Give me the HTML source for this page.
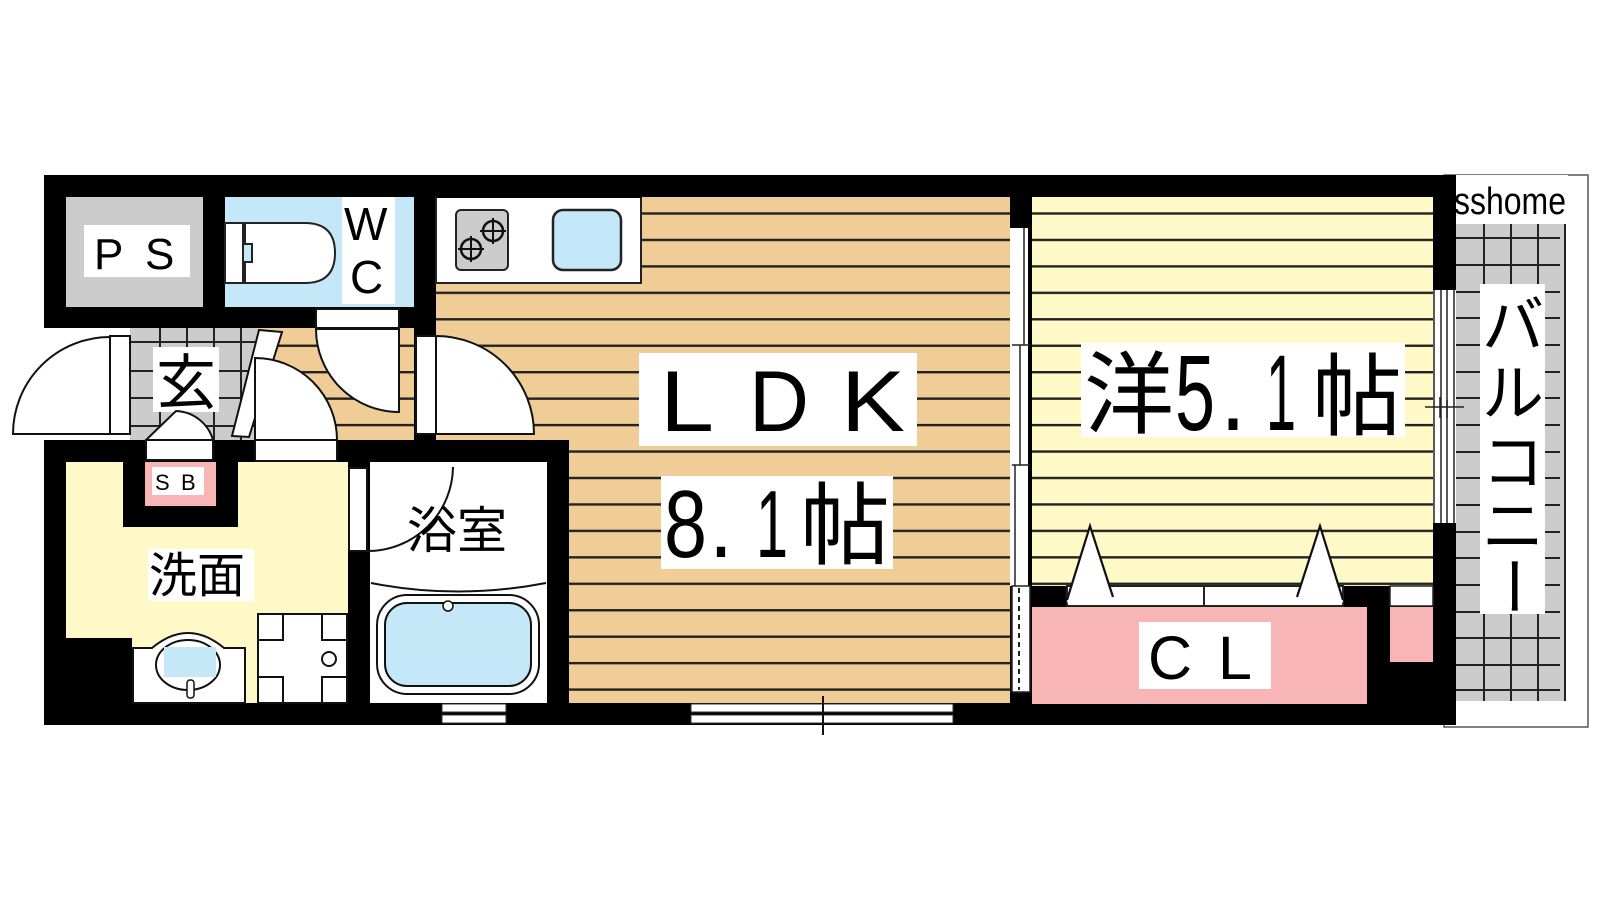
<!DOCTYPE html>
<html><head><meta charset="utf-8"><style>
html,body{margin:0;padding:0;background:#fff;}
svg{display:block;}
.j{font-family:"Liberation Sans","Noto Sans CJK JP",sans-serif;}
.c{font-family:"Noto Sans CJK JP","Liberation Sans",sans-serif;}
</style></head><body>
<svg width="1600" height="900" viewBox="0 0 1600 900" xmlns="http://www.w3.org/2000/svg">
<defs>
<pattern id="ws" x="0" y="0.7" width="40" height="26.45" patternUnits="userSpaceOnUse">
<rect x="0" y="0" width="40" height="26.45" fill="#F0CC96"/>
<rect x="0" y="0" width="40" height="2.4" fill="#222"/>
</pattern>
<pattern id="ys" x="0" y="0.7" width="40" height="26.45" patternUnits="userSpaceOnUse">
<rect x="0" y="0" width="40" height="26.45" fill="#FFF9C8"/>
<rect x="0" y="0" width="40" height="2.4" fill="#222"/>
</pattern>
</defs>
<rect width="1600" height="900" fill="#fff"/>

<!-- balcony -->
<rect x="1444" y="175" width="144" height="552" fill="#fff" stroke="#555" stroke-width="1.5"/>
<rect x="1456" y="224" width="110" height="477" fill="#ccc"/>
<g stroke="#222" stroke-width="2">
<line x1="1484" y1="224" x2="1484" y2="701"/><line x1="1511" y1="224" x2="1511" y2="701"/><line x1="1538" y1="224" x2="1538" y2="701"/><line x1="1565" y1="224" x2="1565" y2="701"/>
<line x1="1456" y1="238" x2="1560" y2="238"/><line x1="1456" y1="265" x2="1560" y2="265"/><line x1="1456" y1="292" x2="1560" y2="292"/><line x1="1456" y1="318" x2="1560" y2="318"/><line x1="1456" y1="345" x2="1560" y2="345"/><line x1="1456" y1="372" x2="1560" y2="372"/><line x1="1456" y1="398" x2="1560" y2="398"/><line x1="1456" y1="425" x2="1560" y2="425"/><line x1="1456" y1="452" x2="1560" y2="452"/><line x1="1456" y1="478" x2="1560" y2="478"/><line x1="1456" y1="505" x2="1560" y2="505"/><line x1="1456" y1="532" x2="1560" y2="532"/><line x1="1456" y1="558" x2="1560" y2="558"/><line x1="1456" y1="585" x2="1560" y2="585"/><line x1="1456" y1="612" x2="1560" y2="612"/><line x1="1456" y1="638" x2="1560" y2="638"/><line x1="1456" y1="665" x2="1560" y2="665"/><line x1="1456" y1="690" x2="1560" y2="690"/>
</g>
<rect x="1451" y="175" width="117" height="49" fill="#fff"/>
<text x="1454" y="214" class="j" font-size="38" textLength="112" lengthAdjust="spacingAndGlyphs">sshome</text>

<!-- main black -->
<rect x="44" y="175" width="1412" height="550" fill="#000"/>
<rect x="0" y="328" width="130" height="112" fill="#fff"/>

<!-- PS -->
<rect x="66" y="197" width="137" height="110" fill="#ccc"/>
<rect x="84" y="225" width="106" height="52" fill="#fff"/>
<text x="94" y="269" class="j" font-size="44">P</text>
<text x="145" y="269" class="j" font-size="44">S</text>

<!-- WC -->
<rect x="225" y="197" width="189" height="110" fill="#C4E8F8"/>
<rect x="225" y="223" width="18" height="60" fill="#fff" stroke="#222" stroke-width="2"/>
<path d="M245,223 L305,223 Q335,223 335,253 Q335,283 305,283 L245,283 L245,262 L252,262 L252,244 L245,244 Z" fill="#fff" stroke="#222" stroke-width="2"/>
<rect x="342" y="197" width="53" height="107" fill="#fff"/>
<text x="344" y="240" class="j" font-size="46">W</text>
<text x="350" y="293" class="j" font-size="46">C</text>

<!-- wood -->
<rect x="569" y="197" width="441" height="506" fill="url(#ws)"/>
<rect x="436" y="283" width="133" height="157" fill="url(#ws)"/>
<rect x="258" y="328" width="156" height="112" fill="url(#ws)"/>

<!-- kitchen -->
<rect x="436" y="197" width="205" height="86" fill="#fff" stroke="#222" stroke-width="2"/>
<rect x="436" y="195" width="205" height="3" fill="#000"/>
<rect x="456" y="210" width="52" height="60" rx="5" fill="#ccc" stroke="#222" stroke-width="2"/>
<g fill="none" stroke="#111" stroke-width="2.5"><circle cx="471" cy="249" r="10"/><circle cx="493" cy="231" r="10"/></g>
<g stroke="#111" stroke-width="2"><line x1="458" y1="249" x2="484" y2="249"/><line x1="471" y1="236" x2="471" y2="262"/><line x1="480" y1="231" x2="506" y2="231"/><line x1="493" y1="218" x2="493" y2="244"/></g>
<rect x="553" y="210" width="68" height="60" rx="10" fill="#C4E8F8" stroke="#222" stroke-width="2.5"/>

<!-- yo room -->
<rect x="1032" y="197" width="401" height="389" fill="url(#ys)"/>
<rect x="1010" y="228" width="18" height="358" fill="#fff"/>
<g stroke="#222" stroke-width="1.5">
<line x1="1024" y1="228" x2="1024" y2="345"/><line x1="1020" y1="345" x2="1020" y2="465"/><line x1="1015" y1="465" x2="1015" y2="586"/>
<line x1="1012" y1="345" x2="1030" y2="345"/><line x1="1012" y1="465" x2="1030" y2="465"/>
</g>
<rect x="1012" y="586" width="18" height="106" fill="#fff" stroke="#222" stroke-width="1.5"/>
<line x1="1019" y1="588" x2="1019" y2="690" stroke="#222" stroke-width="2" stroke-dasharray="5,4"/>

<!-- closet -->
<rect x="1032" y="607" width="335" height="97" fill="#F8B5B5"/>
<rect x="1067" y="586" width="276" height="20" fill="#fff" stroke="#222" stroke-width="2"/>
<line x1="1204" y1="586" x2="1204" y2="606" stroke="#222" stroke-width="2"/>
<rect x="1390" y="586" width="43" height="20" fill="#fff" stroke="#222" stroke-width="1.5"/>
<rect x="1390" y="607" width="43" height="55" fill="#F8B5B5"/>
<polygon points="1067,604 1090,526 1113,597 1067,597" fill="#fff"/>
<polygon points="1297,597 1320,526 1343,604 1343,597" fill="#fff"/>
<g stroke="#111" stroke-width="2.2" fill="none">
<polyline points="1067,600 1090,526 1113,597"/><polyline points="1297,597 1320,526 1343,600"/>
</g>
<rect x="1139" y="622" width="132" height="67" fill="#fff"/>
<text x="1148" y="679" class="j" font-size="61">C</text>
<text x="1218" y="679" class="j" font-size="61">L</text>

<!-- right window -->
<rect x="1433" y="290" width="23" height="233" fill="#fff"/>
<g stroke="#222" stroke-width="1.5">
<line x1="1434" y1="290" x2="1434" y2="523"/><line x1="1441" y1="290" x2="1441" y2="523"/><line x1="1447" y1="290" x2="1447" y2="523"/><line x1="1454" y1="290" x2="1454" y2="523"/>
<line x1="1425" y1="407" x2="1464" y2="407"/>
<line x1="1440" y1="397" x2="1440" y2="418"/><line x1="1447" y1="400" x2="1447" y2="418"/>
</g>

<!-- bottom windows -->
<rect x="691" y="703" width="262" height="22" fill="#000"/>
<rect x="691" y="704" width="262" height="8" fill="#fff" stroke="#333" stroke-width="1"/>
<rect x="691" y="715" width="262" height="8" fill="#fff" stroke="#333" stroke-width="1"/>
<line x1="823" y1="696" x2="823" y2="735" stroke="#111" stroke-width="2"/>
<rect x="442" y="704" width="64" height="8" fill="#fff" stroke="#333" stroke-width="1"/>
<rect x="442" y="715" width="64" height="8" fill="#fff" stroke="#333" stroke-width="1"/>

<!-- genkan -->
<rect x="130" y="328" width="128" height="112" fill="#ccc"/>
<g stroke="#222" stroke-width="2">
<line x1="160" y1="328" x2="160" y2="440"/><line x1="187" y1="328" x2="187" y2="440"/><line x1="214" y1="328" x2="214" y2="440"/><line x1="241" y1="328" x2="241" y2="440"/>
<line x1="130" y1="342" x2="258" y2="342"/><line x1="130" y1="371" x2="258" y2="371"/><line x1="130" y1="398" x2="258" y2="398"/><line x1="130" y1="426" x2="258" y2="426"/>
</g>
<rect x="153" y="347" width="66" height="65" fill="#fff"/>
<text x="156" y="404" class="c" font-size="60">玄</text>

<!-- doors -->
<g fill="#fff" stroke="#111" stroke-width="2">
<rect x="110" y="336" width="20" height="98"/>
<path d="M110,434 L13,434 A97,97 0 0 1 110,337 Z"/>
<polygon points="259,330 282,332 249,437 232,436"/>
<rect x="255" y="440" width="82" height="21"/>
<path d="M255,440 L255,358 A82,82 0 0 1 337,440 Z"/>
<rect x="316" y="309" width="83" height="19"/>
<path d="M399,329 L399,412 A83,83 0 0 1 316,329 Z"/>
<rect x="416" y="336" width="20" height="98"/>
<path d="M436,434 L436,336 A98,98 0 0 1 534,434 Z"/>
<rect x="146" y="440" width="67" height="20"/>
<path d="M146,440 L176,411 A40,40 0 0 1 213,440 Z"/>
</g>

<!-- senmen -->
<path d="M66,462 L123,462 L123,527 L238,527 L238,462 L348,462 L348,703 L132,703 L132,638 L66,638 Z" fill="#FFF9C8"/>
<rect x="145" y="462" width="71" height="44" fill="#F8B5B5"/>
<rect x="152" y="467" width="52" height="28" fill="#fff"/>
<text x="155" y="490" class="j" font-size="22">S</text>
<text x="181" y="490" class="j" font-size="22">B</text>
<path d="M133,703 L133,648 L152,648 Q188,618 224,648 L245,648 L245,703 Z" fill="#fff" stroke="#111" stroke-width="2"/>
<ellipse cx="188" cy="665" rx="32" ry="25" fill="#fff" stroke="#111" stroke-width="2"/>
<rect x="164" y="647" width="52" height="30" fill="#C4E8F8"/>
<rect x="187" y="680" width="7" height="18" rx="3" fill="#fff" stroke="#111" stroke-width="1.5"/>
<rect x="258" y="614" width="89" height="89" fill="#fff" stroke="#111" stroke-width="2"/>
<g fill="#fff" stroke="#111" stroke-width="2">
<rect x="258" y="614" width="25" height="26"/><rect x="322" y="614" width="25" height="26"/><rect x="258" y="677" width="25" height="26"/><rect x="322" y="677" width="25" height="26"/>
<circle cx="329" cy="659" r="7"/>
</g>
<rect x="148" y="549" width="106" height="52" fill="#fff"/>
<text x="149" y="592" class="c" font-size="48">洗面</text>

<!-- bath -->
<rect x="370" y="462" width="177" height="241" fill="#fff"/>
<rect x="349" y="468" width="18" height="83" fill="#fff" stroke="#111" stroke-width="2"/>
<path d="M453,467 A85,85 0 0 1 368,551" fill="none" stroke="#111" stroke-width="2"/>
<path d="M371,583 Q458,600 546,583" fill="none" stroke="#111" stroke-width="2"/>
<rect x="377" y="595" width="162" height="99" rx="30" fill="#fff" stroke="#111" stroke-width="2"/>
<rect x="385" y="603" width="146" height="83" rx="22" fill="#C4E8F8" stroke="#111" stroke-width="2"/>
<circle cx="448" cy="606" r="5" fill="#fff" stroke="#111" stroke-width="1.5"/>
<text x="407" y="548" class="c" font-size="50">浴室</text>

<!-- LDK labels -->
<rect x="639" y="353" width="278" height="93" fill="#fff"/>
<text x="660" y="431" class="j" font-size="86" textLength="54" lengthAdjust="spacingAndGlyphs">L</text>
<text x="749" y="431" class="j" font-size="86" textLength="60" lengthAdjust="spacingAndGlyphs">D</text>
<text x="841" y="431" class="j" font-size="86" textLength="64" lengthAdjust="spacingAndGlyphs">K</text>
<rect x="661" y="476" width="232" height="93" fill="#fff"/>
<text x="664" y="557" class="j" font-size="96" textLength="43" lengthAdjust="spacingAndGlyphs">8</text>
<text x="709" y="557" class="j" font-size="96" textLength="24" lengthAdjust="spacingAndGlyphs">.</text>
<text x="756" y="557" class="j" font-size="96" textLength="32" lengthAdjust="spacingAndGlyphs">1</text>
<text x="800" y="557" class="c" font-size="90">帖</text>

<rect x="1081" y="343" width="324" height="94" fill="#fff"/>
<text x="1084" y="426" class="c" font-size="90">洋</text>
<text x="1175" y="430" class="j" font-size="108" textLength="40" lengthAdjust="spacingAndGlyphs">5</text>
<text x="1220" y="430" class="j" font-size="108" textLength="26" lengthAdjust="spacingAndGlyphs">.</text>
<text x="1266" y="430" class="j" font-size="108" textLength="30" lengthAdjust="spacingAndGlyphs">1</text>
<text x="1312" y="428" class="c" font-size="90">帖</text>

<!-- balcony label -->
<rect x="1480" y="284" width="65" height="330" fill="#fff"/>
<text x="1482" y="347" class="c" font-size="62">バ</text>
<text x="1482" y="415" class="c" font-size="62">ル</text>
<text x="1482" y="484" class="c" font-size="62">コ</text>
<text x="1482" y="548" class="c" font-size="62">ニ</text>
<text x="0" y="0" class="c" font-size="62" transform="translate(1491,555) rotate(90)">ー</text>
</svg>
</body></html>
